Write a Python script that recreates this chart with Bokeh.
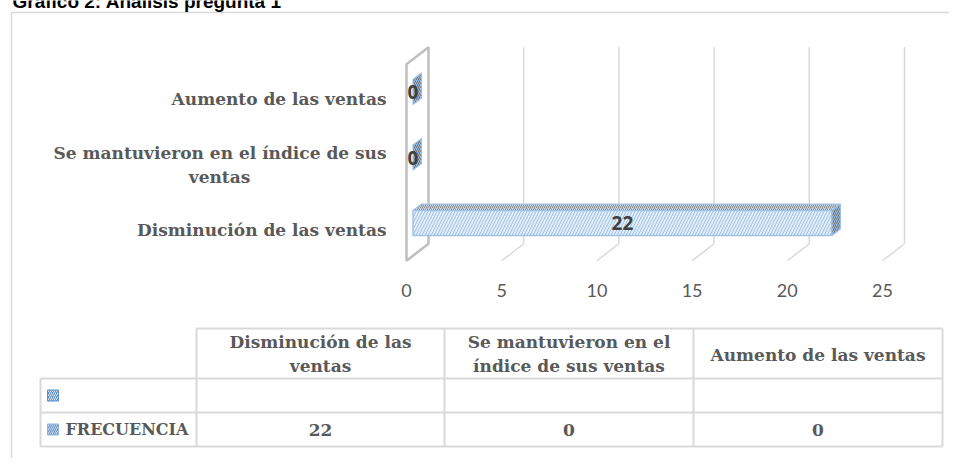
from bokeh.plotting import figure
from bokeh.models import Range1d
from bokeh.embed import file_html
from bokeh.resources import INLINE
from bokeh.core.properties import value

# ---------------- data ----------------
title_text = "Gráfico 2: Análisis pregunta 1"
categories = ["Disminución de las ventas",
              "Se mantuvieron en el índice de sus ventas",
              "Aumento de las ventas"]
axis_label_lines = [["Disminución de las ventas"],
                    ["Se mantuvieron en el índice de sus", "ventas"],
                    ["Aumento de las ventas"]]
table_header_lines = [["Disminución de las", "ventas"],
                      ["Se mantuvieron en el", "índice de sus ventas"],
                      ["Aumento de las ventas"]]
series_name = "FRECUENCIA"
frecuencia = [22, 0, 0]
x_ticks = [0, 5, 10, 15, 20, 25]

# ---------------- layout / style ----------------
W, H = 949, 458
PX = 19.04          # pixels per value unit
X0 = 406            # x of value 0 (front plane)
CPX = 65.5          # pixels per category
C0 = 227.5          # y (from top) of category 0 (front plane)
DX, DY = 22 / PX, 17 / CPX        # full depth vector
BX0, BY0 = 6.5 / PX, 5.0 / CPX    # bar front offset in depth
BDX, BDY = 8.5 / PX, 6.5 / CPX    # bar depth
BH = 25 / CPX                     # bar thickness
FLOOR, TOP = -0.5, 2.5

SERIF = value("DejaVu Serif")
SANS = value("Lato")
LBL = value("Open Sans")
FS = "17px"
GRAY_TXT = "#595959"
GRID = "#d9d9d9"

y_start = -(H - C0) / CPX
p = figure(width=W, height=H,
           x_range=Range1d(-X0 / PX, (W - X0) / PX),
           y_range=Range1d(y_start, y_start + H / CPX),
           output_backend="svg", toolbar_location=None, min_border=0,
           x_axis_location=None, y_axis_location=None)
p.outline_line_color = None
p.background_fill_color = "white"
p.border_fill_color = "white"
for g in p.grid:
    g.visible = False
p.extra_x_ranges = {"px": Range1d(0, W)}
p.extra_y_ranges = {"px": Range1d(H, 0)}
PXR = dict(x_range_name="px", y_range_name="px")

# frame + title (the title sits above the frame, cut at the top as in the source)
p.line([11, 11, W], [H, 12, 12], line_color=GRID, line_width=1.5, **PXR)
p.text([12], [1], text=[title_text], text_font=value("Liberation Sans"),
       text_font_style="bold", text_font_size="19px", text_color="black",
       text_baseline="alphabetic", text_align="left", **PXR)

# left wall
p.patch([0, DX, DX, 0], [FLOOR, FLOOR + DY, TOP + DY, TOP],
        fill_color="white", line_color="#bfbfbf", line_width=2.5)

# back-wall gridlines and floor lines
gx = [[t + DX, t + DX] for t in x_ticks[1:]]
gy = [[FLOOR + DY, TOP + DY] for t in x_ticks[1:]]
p.multi_line(gx, gy, line_color=GRID, line_width=1.5)
fx = [[t, t + DX] for t in x_ticks[1:]]
fy = [[FLOOR, FLOOR + DY] for t in x_ticks[1:]]
p.multi_line(fx, fy, line_color=GRID, line_width=1.5)

# bars (3D)
ys = list(range(len(categories)))
bot = [i - BH / 2 + BY0 for i in ys]
top = [i + BH / 2 + BY0 for i in ys]
nz = [k for k, v in enumerate(frecuencia) if v > 0]
p.quad(left=[BX0] * len(nz), right=[frecuencia[k] + BX0 for k in nz],
       bottom=[bot[k] for k in nz], top=[top[k] for k in nz],
       fill_color="#e3edf8", line_color="#9dc3e6", line_width=1.5,
       hatch_pattern="/", hatch_color="#9dc3e6", hatch_scale=6, hatch_weight=1)
p.patches([[BX0, frecuencia[k] + BX0, frecuencia[k] + BX0 + BDX, BX0 + BDX] for k in nz],
          [[top[k], top[k], top[k] + BDY, top[k] + BDY] for k in nz],
          fill_color="#c9d6e8", line_color="#9dc3e6", line_width=1.2,
          hatch_pattern="/", hatch_color="#8c8c8c", hatch_scale=4, hatch_weight=1)
p.patches([[v + BX0, v + BX0 + BDX, v + BX0 + BDX, v + BX0] for v in frecuencia],
          [[bot[k], bot[k] + BDY, top[k] + BDY, top[k]] for k in ys],
          fill_color="#9dbbe0", line_color="#9dc3e6", line_width=1.2,
          hatch_pattern="/", hatch_color="#6f6f6f", hatch_scale=4, hatch_weight=1)

# data labels
p.text([v / 2 + BX0 for v in frecuencia], [i + BY0 for i in ys],
       text=[str(v) for v in frecuencia], text_font=LBL, text_font_style="bold",
       text_font_size="19px", text_color="#404040",
       text_align="center", text_baseline="middle")

# category labels
for i, lines in enumerate(axis_label_lines):
    if len(lines) == 1:
        p.text([0], [i], text=lines, x_offset=-20, y_offset=1.5,
               text_font=SERIF, text_font_style="bold", text_font_size=FS,
               text_color=GRAY_TXT, text_align="right", text_baseline="middle")
    else:
        p.text([0], [i], text=[lines[0]], x_offset=-20, y_offset=-10,
               text_font=SERIF, text_font_style="bold", text_font_size=FS,
               text_color=GRAY_TXT, text_align="right", text_baseline="middle")
        p.text([0], [i], text=[lines[1]], x_offset=-187, y_offset=14,
               text_font=SERIF, text_font_style="bold", text_font_size=FS,
               text_color=GRAY_TXT, text_align="center", text_baseline="middle")

# value tick labels
p.text(x_ticks, [FLOOR] * len(x_ticks), text=[str(t) for t in x_ticks],
       y_offset=30, text_font=SANS, text_font_size="18px", text_color=GRAY_TXT,
       text_align="center", text_baseline="middle")

# ---------------- data table ----------------
cx = [40, 196, 444, 693, 942]
ry = [328, 378, 412, 446]
tl_x = [[cx[1], cx[4]], [cx[0], cx[4]], [cx[0], cx[4]], [cx[0], cx[4]]]
tl_y = [[ry[0], ry[0]], [ry[1], ry[1]], [ry[2], ry[2]], [ry[3], ry[3]]]
for k in range(1, 5):
    tl_x.append([cx[k], cx[k]]); tl_y.append([ry[0], ry[3]])
tl_x.append([cx[0], cx[0]]); tl_y.append([ry[1], ry[3]])
p.multi_line(tl_x, tl_y, line_color=GRID, line_width=2, **PXR)

col_c = [(cx[k] + cx[k + 1]) / 2 for k in range(1, 4)]
for k, lines in enumerate(table_header_lines):
    if len(lines) == 2:
        p.text([col_c[k]] * 2, [ry[0] + 13.7, ry[0] + 37], text=lines,
               text_font=SERIF, text_font_style="bold", text_font_size=FS,
               text_color=GRAY_TXT, text_align="center", text_baseline="middle", **PXR)
    else:
        p.text([col_c[k]], [(ry[0] + ry[1]) / 2 + 1], text=lines,
               text_font=SERIF, text_font_style="bold", text_font_size=FS,
               text_color=GRAY_TXT, text_align="center", text_baseline="middle", **PXR)

row3 = (ry[2] + ry[3]) / 2
row2 = (ry[1] + ry[2]) / 2
p.text(col_c, [row3] * 3, text=[str(v) for v in frecuencia],
       text_font=SERIF, text_font_style="bold", text_font_size=FS,
       text_color=GRAY_TXT, text_align="center", text_baseline="middle", **PXR)
p.text([65], [row3], text=[series_name],
       text_font=SERIF, text_font_style="bold", text_font_size="16px",
       text_color=GRAY_TXT, text_align="left", text_baseline="middle", **PXR)

# legend keys
p.quad(left=[47], right=[58], top=[row2 - 5.5], bottom=[row2 + 5.5],
       fill_color="#5b8ec9", line_color="#5b8ec9", line_width=1,
       hatch_pattern="/", hatch_color="#dfe8f3", hatch_scale=4, hatch_weight=1, **PXR)
p.quad(left=[47], right=[58], top=[row3 - 5.5], bottom=[row3 + 5.5],
       fill_color="#b7cfea", line_color="#8fb3de", line_width=1,
       hatch_pattern="/", hatch_color="#6f93c6", hatch_scale=4, hatch_weight=1, **PXR)

open("out.html", "w").write(file_html(p, INLINE))
